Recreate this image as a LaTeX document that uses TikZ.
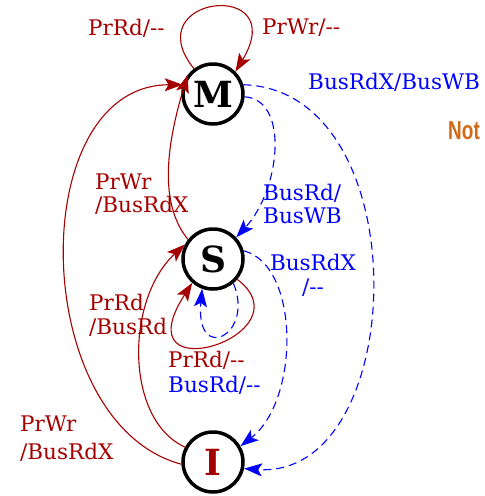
\documentclass[tikz,border=0pt]{standalone}
\usepackage{fontspec}
\setmainfont{DejaVu Serif}[Ligatures=TeXOff]
\newfontfamily\notefont{Liberation Sans}
\usetikzlibrary{arrows.meta}
\definecolor{trred}{RGB}{165,0,0}
\definecolor{trblue}{RGB}{0,0,255}
\definecolor{noteorange}{RGB}{210,105,20}

\begin{document}
\begin{tikzpicture}[x=1pt,y=-1pt,
  state/.style={circle, draw=black, line width=3.5pt, minimum size=60pt,
    inner sep=0pt, font=\fontsize{36}{36}\selectfont\bfseries},
  tip/.style={-{Stealth[length=18pt,width=13pt,inset=4pt]}},
  proc/.style={tip, draw=trred, line width=1.1pt},
  bus/.style={tip, draw=trblue, line width=1.1pt, dash pattern=on 8pt off 5pt},
  lbl/.style={font=\fontsize{21.5}{24}\selectfont, inner sep=0pt, align=left,
    anchor=north west},
]
\useasboundingbox (0,0) rectangle (485,496);

% states
\node[state] (M) at (213,94) {M};
\node[state] (S) at (213,259) {S};
\node[state, text=trred] (I) at (213,462) {I};

% processor-side transitions
\draw[proc] (M.127) .. controls (135,-5) and (292,-22) .. (M.45);
\draw[proc] (I.184) .. controls (28,423) and (24,85) .. (M.163);
\draw[proc] (S.142) .. controls (160,205) and (165,150) .. (M.143);
\draw[proc] (I.152) .. controls (125,420) and (125,300) .. (S.153);
\draw[proc] (S.-40) .. controls (310,335) and (120,395) .. (S.-131);

% bus-side transitions
\draw[bus] (S.-50) .. controls (255,335) and (195,365) .. (S.-110);
\draw[bus] (M.-5) .. controls (290,100) and (280,190) .. (S.43);
\draw[bus] (M.17) .. controls (420,90) and (410,480) .. (I.-12);
\draw[bus] (S.15) .. controls (300,265) and (300,400) .. (I.30);

% labels
\node[lbl, text=trred] (lMrd) at (88,19) {PrRd/--};
\node[lbl, text=trred] (lMwr) at (262,19) {PrWr/--};
\node[lbl, text=trblue] (lMI) at (308,73) {BusRdX/BusWB};
\node[lbl, text=trred, font=\fontsize{21.5}{22.5}\selectfont] (lSM) at (95,174) {PrWr\\/BusRdX};
\node[lbl, text=trblue, font=\fontsize{21.5}{23}\selectfont] (lMS) at (263,184) {BusRd/\\BusWB};
\node[lbl, text=trblue, align=center, anchor=north] (lSI) at (313,254) {BusRdX\\/--};
\node[lbl, text=trred] (lIS) at (89,294) {PrRd\\/BusRd};
\node[lbl, font=\fontsize{21.5}{25}\selectfont] (lSS) at (168,351) {\textcolor{trred}{PrRd/--}\\\textcolor{trblue}{BusRd/--}};
\node[lbl, text=trred, font=\fontsize{21.5}{28}\selectfont] (lIM) at (20,416) {PrWr\\/BusRdX};

\node[font=\notefont\fontsize{26}{26}\selectfont\bfseries, text=noteorange,
  anchor=north west, inner sep=0pt] (note) at (448,121) {\scalebox{0.73}[1]{Not}};
\end{tikzpicture}
\end{document}
